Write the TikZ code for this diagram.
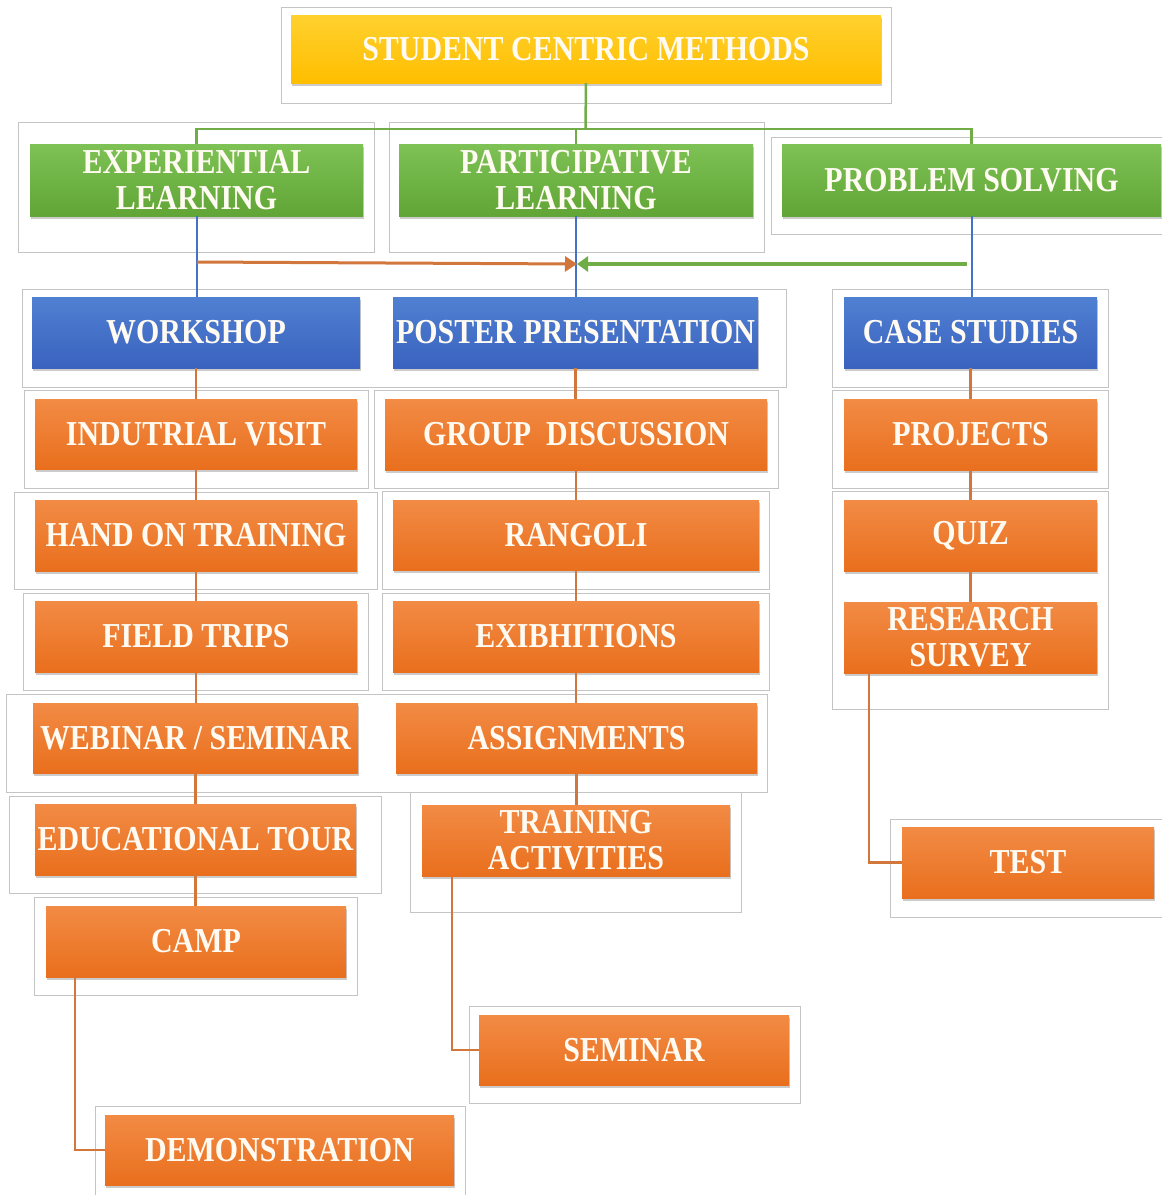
\documentclass[tikz,border=0pt]{standalone}
\usepackage{fontspec}
\newfontfamily\boxfont[FakeStretch=0.855]{Liberation Serif}
\usetikzlibrary{shadows,arrows.meta}
\definecolor{yelT}{HTML}{FFD12E}
\definecolor{yelB}{HTML}{FFBE00}
\definecolor{grnT}{HTML}{7EC255}
\definecolor{grnB}{HTML}{60A536}
\definecolor{bluT}{HTML}{5080D2}
\definecolor{bluB}{HTML}{3A63BF}
\definecolor{orT}{HTML}{F28B45}
\definecolor{orB}{HTML}{E96F1D}
\definecolor{frameC}{HTML}{C4C4C4}
\definecolor{lnG}{HTML}{70AD47}
\definecolor{lnB}{HTML}{4472C4}
\definecolor{lnO}{HTML}{D2773B}
\definecolor{txt}{HTML}{FFFBF2}
\tikzset{
  bx/.style={rectangle, inner sep=0pt, outer sep=0pt, align=center, text=txt,
    font=\boxfont\bfseries\fontsize{35}{36}\selectfont,
    drop shadow={shadow xshift=1pt, shadow yshift=-3pt, opacity=0.25, fill=black!80}},
  yel/.style={bx, top color=yelT, bottom color=yelB},
  grn/.style={bx, top color=grnT, bottom color=grnB},
  blu/.style={bx, top color=bluT, bottom color=bluB},
  org/.style={bx, top color=orT, bottom color=orB},
  frame/.style={draw=frameC, line width=1pt},
  gline/.style={draw=lnG, line width=2.5pt},
  bline/.style={draw=lnB, line width=2pt},
  oline/.style={draw=lnO, line width=2.5pt},
  oarrow/.style={draw=lnO, line width=3pt, -{Triangle[length=12pt,width=15pt]}},
  garrow/.style={draw=lnG, line width=3.5pt, -{Triangle[length=11pt,width=15pt]}}
}
\newcommand\mkbox[7]{%
  \pgfmathsetmacro\cx{(#3+#5)/2}\pgfmathsetmacro\cy{(#4+#6)/2}%
  \pgfmathsetmacro\bw{#5-#3}\pgfmathsetmacro\bh{#6-#4}%
  \node[#2, minimum width=\bw pt, minimum height=\bh pt] (#1) at (\cx,\cy) {#7};}
\newcommand\mkframe[4]{\draw[frame] (#1,#2) rectangle (#3,#4);}
\begin{document}
\begin{tikzpicture}[x=1pt,y=-1pt]
\useasboundingbox (0,0) rectangle (1162,1195);
\fill[white] (0,0) rectangle (1162,1195);
% frames
\mkframe{281}{7}{891}{103}
\mkframe{18}{122}{374}{252}
\mkframe{389}{122}{764}{252}
\draw[frame] (1163,137) -- (771,137) -- (771,234) -- (1163,234);
\mkframe{22}{289}{786}{387}
\mkframe{832}{289}{1108}{387}
\mkframe{24}{390}{368}{488}
\mkframe{374}{390}{778}{488}
\mkframe{832}{390}{1108}{488}
\mkframe{14}{492}{377}{589}
\mkframe{382}{491}{769}{589}
\mkframe{832}{491}{1108}{709}
\mkframe{23}{593}{368}{690}
\mkframe{382}{593}{769}{690}
\mkframe{6}{694}{767}{792}
\mkframe{9}{796}{381}{893}
\mkframe{410}{792}{741}{912}
\mkframe{34}{897}{357}{995}
\mkframe{469}{1006}{800}{1103}
\draw[frame] (1163,819) -- (890,819) -- (890,917) -- (1163,917);
\draw[frame] (95,1196) -- (95,1106) -- (465,1106) -- (465,1196);
% boxes
\mkbox{top}{yel}{291}{15}{881}{83}{STUDENT CENTRIC METHODS}
\mkbox{exp}{grn}{30}{144}{363}{216}{EXPERIENTIAL\\LEARNING}
\mkbox{par}{grn}{399}{144}{753}{216}{PARTICIPATIVE\\LEARNING}
\mkbox{ps}{grn}{782}{144}{1161}{216}{PROBLEM SOLVING}
\mkbox{ws}{blu}{32}{297}{360}{368}{WORKSHOP}
\mkbox{pp}{blu}{393}{297}{758}{368}{POSTER PRESENTATION}
\mkbox{cs}{blu}{844}{297}{1097}{368}{CASE STUDIES}
\mkbox{iv}{org}{35}{399}{357}{469}{INDUTRIAL VISIT}
\mkbox{gd}{org}{385}{399}{767}{470}{GROUP~~DISCUSSION}
\mkbox{pr}{org}{844}{399}{1097}{470}{PROJECTS}
\mkbox{ht}{org}{35}{500}{357}{571}{HAND ON TRAINING}
\mkbox{ra}{org}{393}{500}{759}{570}{RANGOLI}
\mkbox{qz}{org}{844}{500}{1097}{571}{QUIZ}
\mkbox{ft}{org}{35}{601}{357}{672}{FIELD TRIPS}
\mkbox{ex}{org}{393}{601}{759}{672}{EXIBHITIONS}
\mkbox{rs}{org}{844}{602}{1097}{673}{RESEARCH\\SURVEY}
\mkbox{wb}{org}{33}{703}{358}{773}{WEBINAR / SEMINAR}
\mkbox{as}{org}{396}{703}{757}{773}{ASSIGNMENTS}
\mkbox{et}{org}{35}{804}{356}{875}{EDUCATIONAL TOUR}
\mkbox{ta}{org}{422}{805}{730}{876}{TRAINING\\ACTIVITIES}
\mkbox{te}{org}{902}{827}{1154}{898}{TEST}
\mkbox{ca}{org}{46}{906}{346}{977}{CAMP}
\mkbox{se}{org}{479}{1015}{789}{1085}{SEMINAR}
\mkbox{de}{org}{105}{1115}{454}{1185}{DEMONSTRATION}
% green tree connectors
\coordinate (gj) at (585.5,129);
\draw[gline] (top.south) -- (gj);
\draw[gline] (exp.north) -- ++(0,-15) -| (ps.north);
\draw[gline] (par.north) -- (par.north |- gj);
% blue connectors
\draw[bline] (exp.south) -- (exp.south |- ws.north);
\draw[bline] (par.south) -- (par.south |- pp.north);
\draw[bline] (ps.south) -- (ps.south |- cs.north);
% arrows
\coordinate (oa) at (197,262);
\coordinate (mid) at (577,264);
\coordinate (ga) at (967,264);
\draw[oarrow] (oa) -- (mid);
\draw[garrow] (ga) -- (mid);
% orange vertical connectors
\foreach \a/\b in {ws/iv,iv/ht,ht/ft,ft/wb,wb/et,et/ca,pp/gd,gd/ra,ra/ex,ex/as,as/ta,cs/pr,pr/qz,qz/rs}
  \draw[oline] (\a.south) -- (\a.south |- \b.north);
% elbow connectors
\coordinate (cx1) at (75,0);
\coordinate (cx2) at (452,0);
\coordinate (cx3) at (869,0);
\draw[oline] (ca.south -| cx1) |- (de.west);
\draw[oline] (ta.south -| cx2) |- (se.west);
\draw[oline] (rs.south -| cx3) |- (te.west);
\end{tikzpicture}
\end{document}
